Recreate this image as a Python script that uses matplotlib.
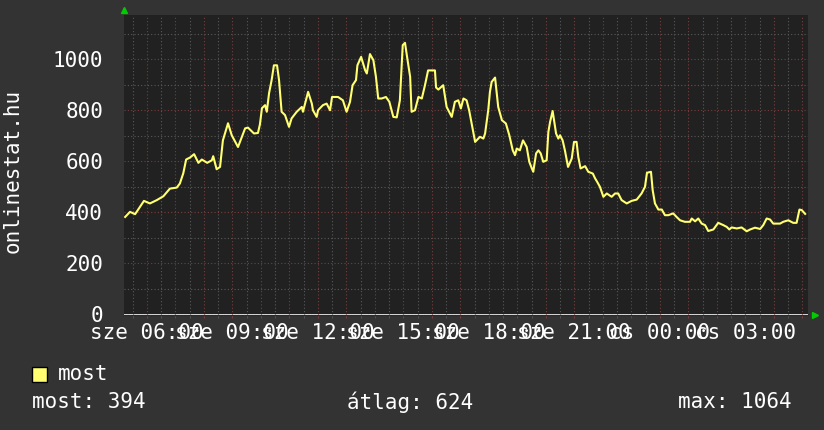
import matplotlib
matplotlib.use("Agg")
import matplotlib.pyplot as plt
from matplotlib.patches import Rectangle
from matplotlib.ticker import MultipleLocator

# hours since midnight of "sze" (values > 24 are the next day)
hours = [5.24, 5.41, 5.59, 5.90, 6.11, 6.35, 6.58, 6.81, 7.05, 7.16, 7.28, 7.38, 7.52, 7.66,
         7.81, 7.93, 8.12, 8.28, 8.33, 8.45, 8.57, 8.67, 8.85, 8.98, 9.20, 9.45, 9.55, 9.76,
         9.90, 9.97, 10.04, 10.15, 10.21, 10.29, 10.38, 10.46, 10.57, 10.64, 10.73, 10.85,
         10.99, 11.08, 11.26, 11.44, 11.48, 11.66, 11.79, 11.83, 11.96, 12.01, 12.18, 12.31,
         12.43, 12.50, 12.71, 12.88, 13.01, 13.13, 13.22, 13.34, 13.39, 13.52, 13.66, 13.72,
         13.83, 13.95, 14.04, 14.12, 14.24, 14.39, 14.51, 14.65, 14.77, 14.88, 14.98, 15.06,
         15.14, 15.24, 15.29, 15.41, 15.53, 15.65, 15.76, 15.87, 16.11, 16.15, 16.23, 16.40,
         16.52, 16.70, 16.81, 16.93, 17.02, 17.11, 17.22, 17.31, 17.41, 17.52, 17.69, 17.81,
         17.87, 17.98, 18.04, 18.10, 18.22, 18.33, 18.46, 18.60, 18.72, 18.84, 18.92, 18.98,
         19.09, 19.20, 19.33, 19.42, 19.51, 19.56, 19.66, 19.74, 19.82, 19.91, 20.03, 20.09,
         20.15, 20.24, 20.36, 20.44, 20.50, 20.59, 20.67, 20.78, 20.91, 20.99, 21.08, 21.14,
         21.22, 21.38, 21.49, 21.65, 21.73, 21.80, 21.90, 22.02, 22.14, 22.31, 22.43, 22.54,
         22.66, 22.84, 23.01, 23.19, 23.36, 23.48, 23.55, 23.69, 23.75, 23.83, 23.95, 24.07,
         24.18, 24.30, 24.47, 24.59, 24.71, 24.88, 25.06, 25.12, 25.24, 25.35, 25.47, 25.59,
         25.70, 25.88, 26.05, 26.23, 26.35, 26.44, 26.52, 26.70, 26.87, 27.05, 27.17, 27.34,
         27.52, 27.63, 27.75, 27.87, 27.98, 28.22, 28.33, 28.51, 28.68, 28.80, 28.90, 28.98,
         29.10]
most = [382, 402, 393, 445, 435, 448, 463, 493, 497, 513, 553, 607, 615, 628,
        594, 607, 594, 604, 620, 569, 578, 682, 749, 702, 656, 729, 732, 709,
        711, 745, 808, 820, 794, 867, 918, 976, 976, 918, 794, 781,
        735, 768, 794, 813, 794, 872, 826, 800, 774, 800, 820, 826,
        800, 852, 852, 839, 794, 833, 898, 918, 976, 1009, 957, 944,
        1020, 996, 931, 846, 846, 852, 833, 774, 772, 839, 1055, 1064,
        1003, 931, 794, 800, 852, 846, 898, 956, 956, 889, 881, 898,
        813, 774, 833, 839, 807, 846, 839, 800, 741, 676, 696, 689,
        709, 800, 872, 911, 928, 813, 761, 748, 702, 643, 624, 650,
        643, 682, 656, 598, 572, 559, 631, 643, 631, 598, 604, 715,
        754, 797, 709, 689, 702, 682, 643, 578, 611, 676, 676, 617,
        572, 581, 559, 552, 533, 520, 500, 461, 474, 461, 474, 474,
        448, 435, 445, 450, 474, 500, 555, 559, 487, 435, 411, 411,
        389, 389, 396, 382, 369, 363, 363, 376, 365, 376, 356, 350,
        327, 333, 359, 350, 343, 333, 341, 337, 341, 326, 333, 340,
        335, 350, 376, 372, 356, 356, 363, 369, 359, 359, 411, 409,
        394]

label_hours = [6, 9, 12, 15, 18, 21, 24, 27]
label_text = ["sze 06:00", "sze 09:00", "sze 12:00", "sze 15:00",
              "sze 18:00", "sze 21:00", "cs 00:00", "cs 03:00"]
y_ticks = [0, 200, 400, 600, 800, 1000]
stats = {"most": "most: 394", "avg": "átlag: 624", "max": "max: 1064"}

BG = "#333333"
PLOT_BG = "#212121"
MAJOR = "#7a3c3c"
MINOR = "#5a5a5a"
LINE = "#ffff70"
TXT = "#ffffff"

plt.rcParams["font.family"] = ["DejaVu Sans Mono", "DejaVu Sans"]

W, H = 824, 430
fig = plt.figure(figsize=(W / 100, H / 100), dpi=100, facecolor=BG)
ax = fig.add_axes([124 / W, 1 - 314.5 / H, 684 / W, 300 / H], facecolor=PLOT_BG)

ax.plot(hours, most, color=LINE, lw=1.5, zorder=3)

ax.set_xlim(5.2, 29.2)
ax.set_ylim(0, 1175)

# hourly major grid (red), half-hour minor grid (gray)
ax.xaxis.set_major_locator(MultipleLocator(1))
ax.xaxis.set_minor_locator(MultipleLocator(0.5))
ax.yaxis.set_major_locator(MultipleLocator(200))
ax.yaxis.set_minor_locator(MultipleLocator(100))
ax.grid(which="major", color=MAJOR, ls=(0, (1, 2)), lw=0.8)
ax.grid(which="minor", color=MINOR, ls=(0, (1, 2)), lw=0.8)
ax.set_axisbelow(True)

# labels only every third hour; they overlap each other like in the original
ax.set_xticklabels([])
sec = ax.secondary_xaxis("bottom")
sec.set_xticks(label_hours)
sec.set_xticklabels(label_text)
sec.tick_params(length=0, pad=6, labelsize=15, colors=TXT)
sec.spines["bottom"].set_visible(False)

ax.set_yticks(y_ticks)
ax.set_yticklabels([str(v) for v in y_ticks])
ax.tick_params(axis="y", which="both", length=0, pad=15, labelsize=15, colors=TXT)
ax.tick_params(axis="x", which="major", length=2, color=MAJOR)
ax.tick_params(axis="x", which="minor", length=2, color=MINOR)

for s in ax.spines.values():
    s.set_visible(False)
ax.plot([0, 1], [0, 0], transform=ax.transAxes, color="#2a2a2a", lw=1, clip_on=False)

# green arrows at the axis ends
ax.plot([0], [1.0 + 5 / 300], marker="^", ms=5, color="#00cc00", transform=ax.transAxes, clip_on=False)
ax.plot([1.0 + 7 / 684], [0], marker=">", ms=5, color="#00cc00", transform=ax.transAxes, clip_on=False)

fig.text(13 / W, 1 - 171 / H, "onlinestat.hu", rotation=90, ha="center", va="center",
         fontsize=15, color=TXT)

# legend
fig.patches.append(Rectangle((32 / W, 1 - 382 / H), 15 / W, 15 / H, transform=fig.transFigure,
                             facecolor=LINE, edgecolor="black", lw=1))
fig.text(58 / W, 1 - 374 / H, "most", ha="left", va="center", fontsize=15, color=TXT)
fig.text(32 / W, 1 - 402 / H, stats["most"], ha="left", va="center", fontsize=15, color=TXT)
fig.text(347 / W, 1 - 402 / H, stats["avg"], ha="left", va="center", fontsize=15, color=TXT)
fig.text(792 / W, 1 - 402 / H, stats["max"], ha="right", va="center", fontsize=15, color=TXT)

fig.savefig("out.png", dpi=100, facecolor=BG)
